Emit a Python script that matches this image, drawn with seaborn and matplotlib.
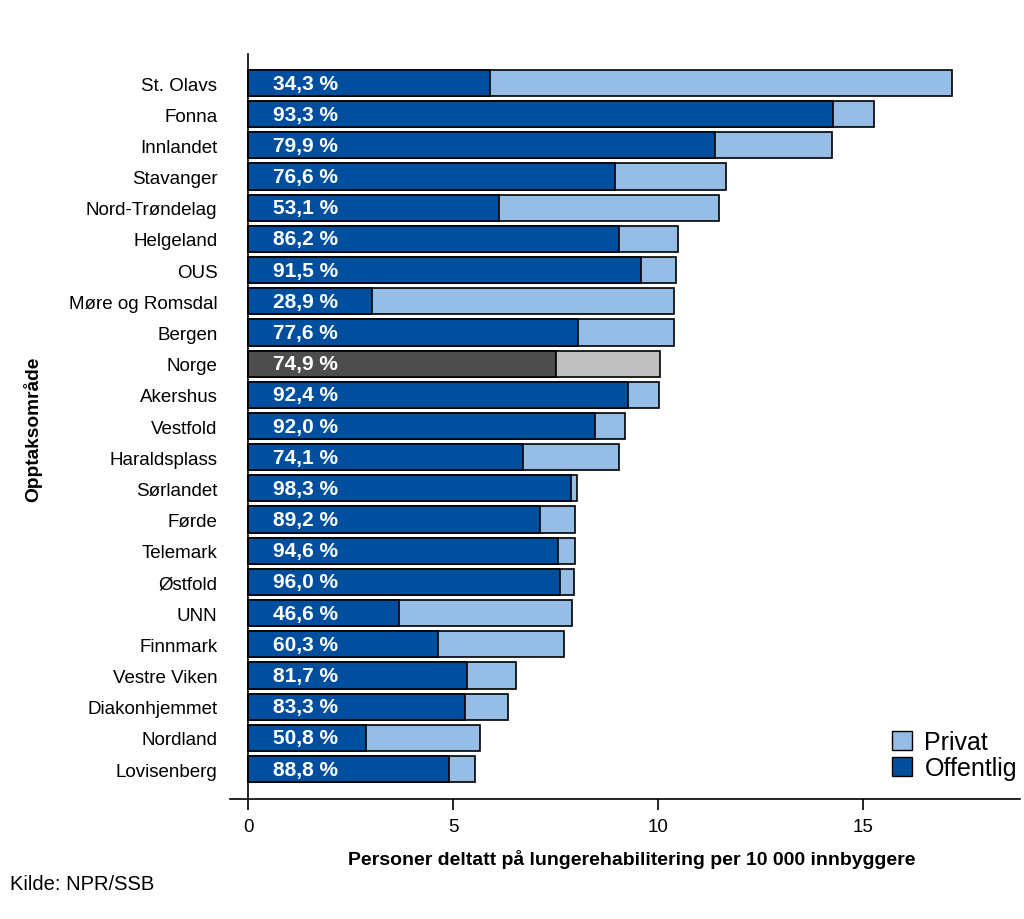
import matplotlib
matplotlib.use("Agg")
import matplotlib.pyplot as plt
from matplotlib.patches import Patch
import seaborn as sns

# data (per 10 000 inhabitants)
omrader = ["St. Olavs", "Fonna", "Innlandet", "Stavanger", "Nord-Trøndelag",
           "Helgeland", "OUS", "Møre og Romsdal", "Bergen", "Norge", "Akershus",
           "Vestfold", "Haraldsplass", "Sørlandet", "Førde", "Telemark",
           "Østfold", "UNN", "Finnmark", "Vestre Viken", "Diakonhjemmet",
           "Nordland", "Lovisenberg"]
totalt = [17.17, 15.27, 14.25, 11.65, 11.48, 10.49, 10.44, 10.40, 10.38, 10.04,
          10.03, 9.19, 9.05, 8.02, 7.97, 7.97, 7.95, 7.90, 7.70, 6.54, 6.33,
          5.66, 5.53]
offentlig = [5.89, 14.26, 11.40, 8.95, 6.12, 9.05, 9.58, 3.02, 8.05, 7.52,
             9.28, 8.47, 6.71, 7.88, 7.11, 7.56, 7.62, 3.68, 4.63, 5.35, 5.29,
             2.87, 4.91]
andel_offentlig = [34.3, 93.3, 79.9, 76.6, 53.1, 86.2, 91.5, 28.9, 77.6, 74.9,
                   92.4, 92.0, 74.1, 98.3, 89.2, 94.6, 96.0, 46.6, 60.3, 81.7,
                   83.3, 50.8, 88.8]

BLA = "#004F9F"
LYSBLA = "#95BDE6"
GRA = "#4D4D4D"
LYSGRA = "#C0C0C0"

farge_off = [GRA if n == "Norge" else BLA for n in omrader]
farge_priv = [LYSGRA if n == "Norge" else LYSBLA for n in omrader]

plt.rcParams['font.family'] = ['Liberation Sans', 'DejaVu Sans']

fig = plt.figure(figsize=(10.24, 9.2), dpi=100)
ax = fig.add_axes([230 / 1024, 1 - 800 / 920, 790 / 1024, 745 / 920])

# total bar first (private part shows), public part drawn on top
sns.barplot(x=totalt, y=omrader, hue=omrader, palette=farge_priv, legend=False,
            orient="h", width=0.84, saturation=1, edgecolor="black",
            linewidth=1.2, ax=ax)
sns.barplot(x=offentlig, y=omrader, hue=omrader, palette=farge_off, legend=False,
            orient="h", width=0.84, saturation=1, edgecolor="black",
            linewidth=1.2, ax=ax)

for i, p in enumerate(andel_offentlig):
    ax.text(0.6, i, f"{p:.1f} %".replace(".", ","), color="white",
            fontsize=15, fontweight="bold", va="center", ha="left",
            family=['Liberation Sans Narrow', 'Liberation Sans', 'DejaVu Sans'])

ax.set_xlim(-0.44, 18.83)
ax.set_ylim(22.96, -0.93)
ax.set_xticks([0, 5, 10, 15])
ax.set_xticklabels(["0", "5", "10", "15"])
ax.tick_params(axis="x", length=8, width=1.2, labelsize=13.5, pad=6)
ax.tick_params(axis="y", length=0, labelsize=13.5, pad=22)
ax.set_xlabel("")
ax.set_ylabel("")

for s in ["top", "right"]:
    ax.spines[s].set_visible(False)
ax.spines["left"].set_position(("data", 0))
ax.spines["left"].set_linewidth(1.2)
ax.spines["bottom"].set_linewidth(1.2)

fig.text(632 / 1024, 1 - 860 / 920,
         "Personer deltatt på lungerehabilitering per 10 000 innbyggere",
         ha="center", va="center", fontsize=14, fontweight="bold")
fig.text(33 / 1024, 1 - 429 / 920, "Opptaksområde", rotation=90,
         ha="center", va="center", fontsize=13.8, fontweight="bold")
fig.text(10 / 1024, 1 - 885 / 920, "Kilde: NPR/SSB", ha="left", va="center",
         fontsize=14.5)

handles = [Patch(facecolor=LYSBLA, edgecolor="black", linewidth=1.0),
           Patch(facecolor=BLA, edgecolor="black", linewidth=1.0)]
fig.legend(handles, ["Privat", "Offentlig"], loc="upper left",
           bbox_to_anchor=(892 / 1024, 1 - 731 / 920), frameon=False,
           fontsize=18, handlelength=0.8, handleheight=0.8,
           handletextpad=0.5, labelspacing=0.1, borderpad=0,
           borderaxespad=0)

fig.savefig("out.png", dpi=100)
